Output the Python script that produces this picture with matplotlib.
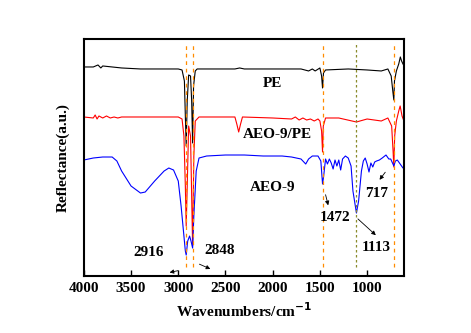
import matplotlib.pyplot as plt
from matplotlib.ticker import MultipleLocator

# spectra (wavenumber, arbitrary offset reflectance)
pe_wn = [4000, 3900, 3850, 3820, 3800, 3700, 3600, 3400, 3000, 2960, 2935, 2925, 2916, 2905,
         2890, 2870, 2858, 2848, 2838, 2820, 2800, 2400, 2350, 2300, 2000, 1700, 1620, 1580,
         1550, 1500, 1482, 1472, 1462, 1440, 1200, 1000, 850, 780, 745, 728, 717, 710, 690,
         665, 648, 635, 620, 608]
pe_val = [209, 209, 211, 208, 210, 209, 208, 207, 207, 206, 195, 160, 130, 175,
          201, 200, 175, 133, 190, 205, 207, 207, 208, 207, 207, 207, 205, 207,
          205, 208, 200, 188, 203, 206, 207, 206, 205, 207, 200, 185, 176, 195, 205,
          212, 219, 215, 212, 210]

mix_wn = [4000, 3900, 3880, 3860, 3840, 3800, 3760, 3720, 3680, 3640, 3600, 3500, 3000,
          2960, 2940, 2925, 2916, 2905, 2890, 2870, 2860, 2848, 2835, 2820, 2780, 2400,
          2380, 2360, 2340, 2320, 2000, 1800, 1760, 1720, 1680, 1640, 1600, 1560, 1520,
          1500, 1482, 1472, 1464, 1440, 1300, 1113, 1000, 850, 780, 740, 725, 717, 708,
          690, 665, 650, 630, 610]
mix_val = [159, 158, 161, 157, 160, 158, 160, 158, 159, 158, 159, 159, 159,
           157, 140, 90, 50, 90, 150, 140, 90, 30, 120, 155, 159, 159,
           152, 144, 152, 159, 158, 157, 159, 156, 158, 156, 157, 155, 157,
           155, 145, 124, 150, 158, 158, 154, 157, 155, 158, 150, 125, 109, 140,
           155, 165, 170, 160, 155]

aeo_wn = [4000, 3900, 3800, 3700, 3650, 3600, 3500, 3400, 3350, 3250, 3150, 3100, 3050,
          3000, 2970, 2940, 2925, 2916, 2900, 2880, 2865, 2848, 2835, 2810, 2780, 2700,
          2500, 2300, 2100, 1900, 1800, 1700, 1650, 1620, 1580, 1520, 1490, 1472, 1460,
          1440, 1420, 1400, 1380, 1360, 1340, 1320, 1300, 1280, 1260, 1230, 1200, 1170,
          1150, 1113, 1090, 1060, 1040, 1020, 1000, 980, 960, 940, 920, 900, 870, 840,
          800, 770, 750, 717, 700, 680, 650, 620, 608]
aeo_val = [116, 118, 119, 119, 115, 105, 90, 83, 84, 95, 105, 108, 106,
           95, 70, 40, 25, 21, 35, 40, 35, 28, 60, 105, 118, 120,
           121, 121, 120, 120, 119, 117, 112, 117, 120, 120, 115, 92, 100,
           117, 112, 117, 113, 107, 116, 110, 116, 106, 117, 120, 118, 110,
           85, 63, 75, 105, 115, 118, 112, 104, 113, 109, 114, 115, 116, 118,
           121, 117, 117, 110, 115, 116, 112, 108, 108]

marks = [2916, 2848, 1472, 1113, 717]
mark_colors = ['#FF8C00', '#FF8C00', '#FF8C00', '#8A8A2A', '#FF8C00']
mark_dashes = [(0, (3, 3)), (0, (3, 3)), (0, (3, 3)), (0, (2, 2)), (0, (3, 3))]

plt.rcParams['font.family'] = 'Liberation Serif'
plt.rcParams['font.weight'] = 'bold'

fig = plt.figure(figsize=(4.71, 3.33), dpi=100)
ax = fig.add_axes([0.178, 0.171, 0.680, 0.712])

ax.plot(pe_wn, pe_val, color='black', lw=0.8)
ax.plot(mix_wn, mix_val, color='red', lw=0.8)
ax.plot(aeo_wn, aeo_val, color='blue', lw=0.8)

for wn, c, d in zip(marks, mark_colors, mark_dashes):
    ax.axvline(wn, ymin=0.04, ymax=0.985, color=c, lw=0.9, ls=d)

ax.set_xlim(4000, 608)
ax.set_ylim(0, 237)

fs = 11
ax.text(2000, 192, 'PE', ha='center', va='center', fontsize=fs)
ax.text(1945, 141, 'AEO-9/PE', ha='center', va='center', fontsize=fs)
ax.text(2000, 89, 'AEO-9', ha='center', va='center', fontsize=fs)
ax.text(896, 83, '717', ha='center', va='center', fontsize=fs)
ax.text(1341, 59, '1472', ha='center', va='center', fontsize=fs)
ax.text(907, 29, '1113', ha='center', va='center', fontsize=fs)
ax.text(3311, 24, '2916', ha='center', va='center', fontsize=fs)
ax.text(2559, 26, '2848', ha='center', va='center', fontsize=fs)

arrow = dict(arrowstyle='-|>', color='black', lw=0.6, mutation_scale=6)
ax.annotate('', xy=(886, 94), xytext=(790, 106), arrowprops=arrow)
ax.annotate('', xy=(1405, 68), xytext=(1447, 84), arrowprops=arrow)
ax.annotate('', xy=(886, 39), xytext=(1119, 59), arrowprops=arrow)
ax.annotate('', xy=(3121, 3), xytext=(2973, 6), arrowprops=arrow)
ax.annotate('', xy=(2633, 6), xytext=(2803, 13), arrowprops=arrow)

ax.xaxis.set_major_locator(MultipleLocator(500))
ax.tick_params(axis='x', direction='in', length=4, width=1, labelsize=fs, top=False, pad=4)
ax.set_yticks([])
for s in ax.spines.values():
    s.set_linewidth(1.5)

ax.set_xlabel('Wavenumbers/cm$^{-1}$', fontsize=fs, fontweight='bold', labelpad=5)
ax.set_ylabel('Reflectance(a.u.)', fontsize=fs, fontweight='bold', labelpad=10)

fig.savefig('out.png', dpi=100)
